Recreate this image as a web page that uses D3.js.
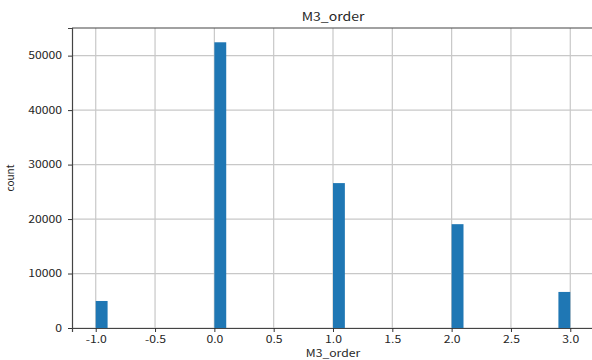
<!DOCTYPE html>
<html>
<head>
<meta charset="utf-8">
<script src="https://cdn.jsdelivr.net/npm/d3@7"></script>
<style>
  body { margin: 0; background: #fff; }
  svg text { font-family: "Noto Sans CJK KR", "Open Sans", sans-serif; fill: #262626; }
</style>
</head>
<body>
<script>
// values of M3_order and how often each occurs
const orderValues = [-1, 0, 1, 2, 3]
const counts = [4960, 52450, 26600, 19060, 6620]
const xTicks = [-1.0, -0.5, 0.0, 0.5, 1.0, 1.5, 2.0, 2.5, 3.0]
const yTicks = [0, 10000, 20000, 30000, 40000, 50000]
const nBins = 40

const width = 592
const height = 360
const margin = {top: 28, right: -2, bottom: 32, left: 72}
const sx = 1.22   // the source picture's text is a bit stretched sideways

const svg = d3.select('body').append('svg')
    .attr('width', width)
    .attr('height', height)

// pandas style histogram: 40 equal bins between min and max
const lo = d3.min(orderValues), hi = d3.max(orderValues)
const binW = (hi - lo) / nBins
const bars = orderValues.map((v, i) => {
    const k = Math.min(Math.floor((v - lo) / binW + 1e-9), nBins - 1)
    return {x0: lo + k * binW, x1: lo + (k + 1) * binW, count: counts[i]}
})

const pad = (hi - lo) * 0.05
const x = d3.scaleLinear()
    .domain([lo - pad, hi + pad])
    .range([margin.left, width - margin.right])

const y = d3.scaleLinear()
    .domain([0, d3.max(counts) * 1.05])
    .range([height - margin.bottom, margin.top])

// grid
svg.append('g').selectAll('line.vg')
    .data(xTicks)
    .enter().append('line')
    .attr('x1', d => x(d)).attr('x2', d => x(d))
    .attr('y1', y.range()[0]).attr('y2', y.range()[1])
    .attr('stroke', '#c8c8c8').attr('stroke-width', 1.2)

svg.append('g').selectAll('line.hg')
    .data(yTicks)
    .enter().append('line')
    .attr('x1', x.range()[0]).attr('x2', x.range()[1])
    .attr('y1', d => y(d)).attr('y2', d => y(d))
    .attr('stroke', '#c8c8c8').attr('stroke-width', 1.2)

// bars
svg.append('g').selectAll('rect')
    .data(bars)
    .enter().append('rect')
    .attr('x', d => x(d.x0))
    .attr('y', d => y(d.count))
    .attr('width', d => x(d.x1) - x(d.x0))
    .attr('height', d => y(0) - y(d.count))
    .attr('fill', '#1f77b4')

// axes
const xAxis = svg.append('g')
    .attr('transform', `translate(0,${y(0)})`)
    .call(d3.axisBottom(x).tickValues(xTicks).tickFormat(d3.format('.1f')).tickSizeOuter(0).tickSize(4).tickPadding(3.5))
const yAxis = svg.append('g')
    .attr('transform', `translate(${margin.left},0)`)
    .call(d3.axisLeft(y).tickValues(yTicks).tickFormat(d => d).tickSizeOuter(0).tickSize(4).tickPadding(6))

;[xAxis, yAxis].forEach(a => {
    a.selectAll('text').attr('font-size', 10).attr('fill', '#262626')
    a.selectAll('line').attr('stroke', '#333')
    a.select('.domain').attr('stroke', '#444').attr('stroke-width', 1.2)
})
xAxis.selectAll('text')
    .text(d => d3.format('.1f')(d).replace('−', '-'))
    .attr('transform', `scale(${sx},1)`)
yAxis.selectAll('text')
    .attr('x', -10 / sx)
    .attr('transform', `scale(${sx},1)`)

// top spine
svg.append('line')
    .attr('x1', x.range()[0]).attr('x2', x.range()[1])
    .attr('y1', margin.top).attr('y2', margin.top)
    .attr('stroke', '#444').attr('stroke-width', 1.2)

const cx = (x.range()[0] + x.range()[1]) / 2
svg.append('text')
    .attr('transform', `translate(${cx},21) scale(${sx},1)`)
    .attr('text-anchor', 'middle')
    .attr('font-size', 11.5)
    .text('M3_order')

svg.append('text')
    .attr('transform', `translate(${cx},357) scale(${sx},1)`)
    .attr('text-anchor', 'middle')
    .attr('font-size', 10)
    .text('M3_order')

svg.append('text')
    .attr('transform', `translate(14,${(margin.top + height - margin.bottom) / 2}) rotate(-90)`)
    .attr('text-anchor', 'middle')
    .attr('font-size', 10)
    .text('count')
</script>
</body>
</html>
